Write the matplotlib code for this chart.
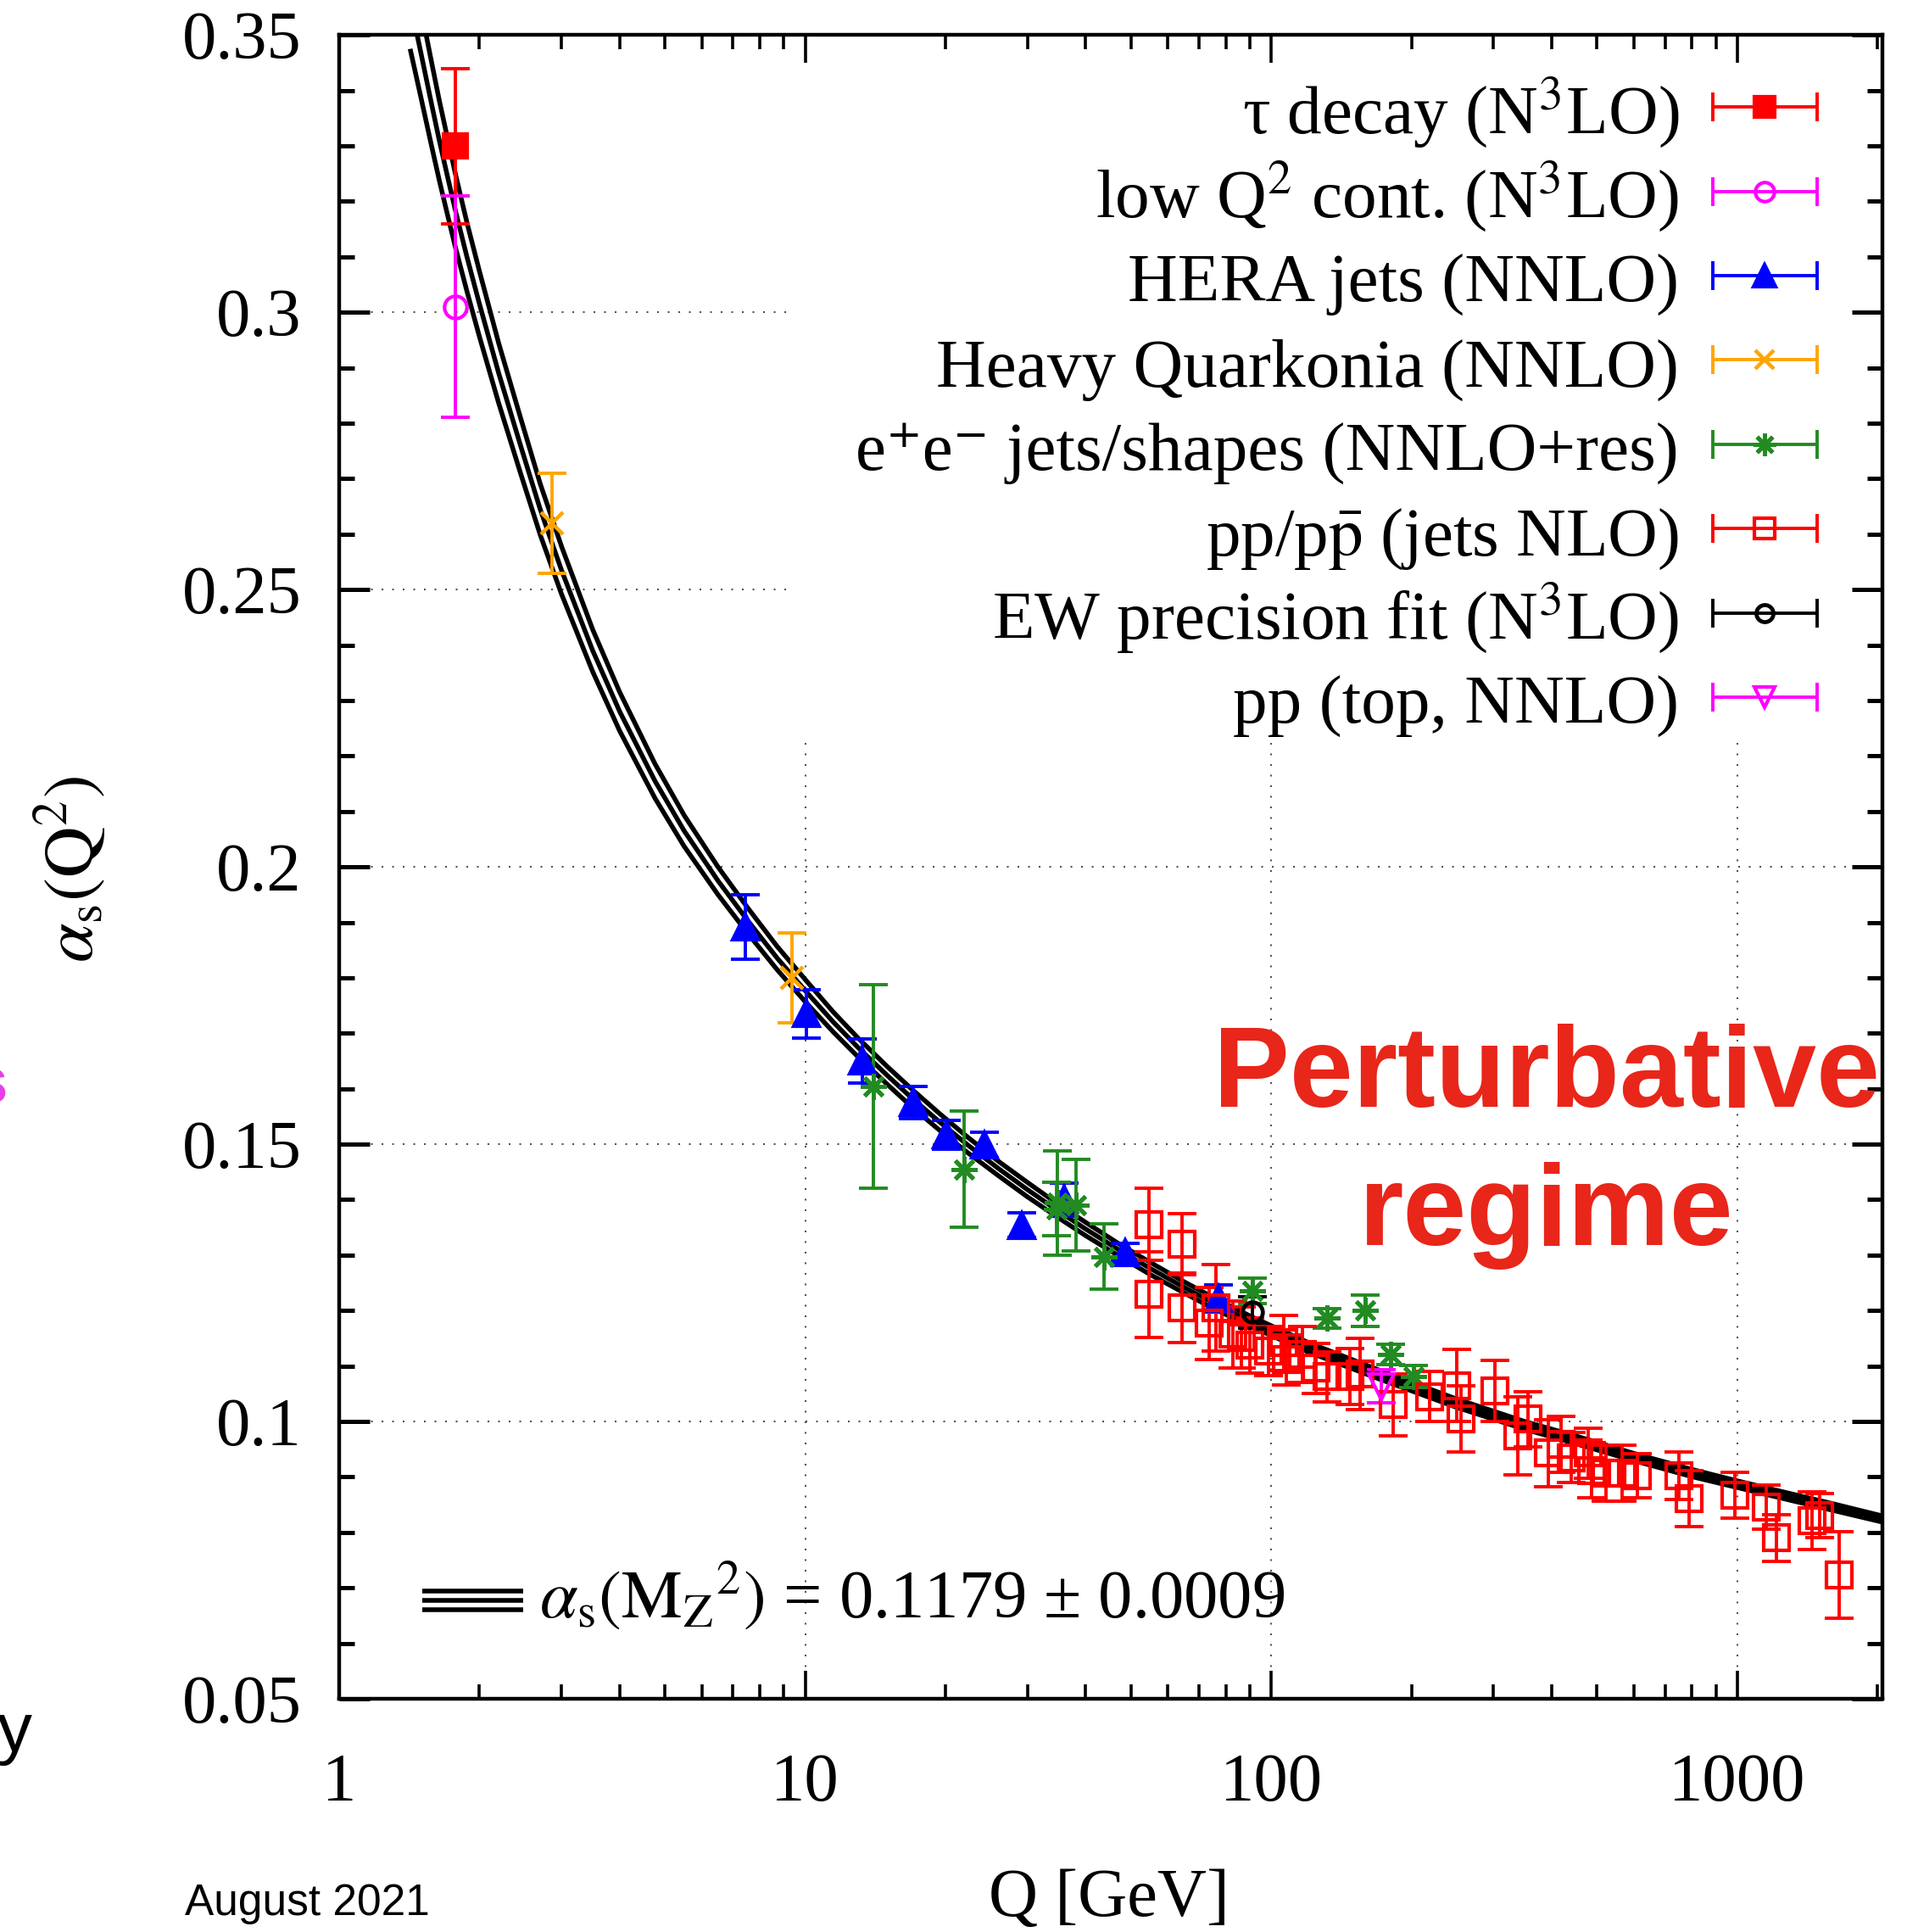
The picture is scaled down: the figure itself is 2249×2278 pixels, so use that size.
import matplotlib
matplotlib.use("Agg")
from matplotlib import pyplot as plt
from matplotlib import patches
from matplotlib import ticker
import numpy as np

plt.rcParams['font.family'] = ['Liberation Serif', 'DejaVu Serif']
plt.rcParams['mathtext.fontset'] = 'stix'

# World average running coupling: central line and half width of the band
q_fit = [1.42, 1.5, 1.57, 1.64, 1.71, 1.78, 1.88, 2.0, 2.2, 2.45, 2.7, 3.0,
         3.5, 4.0, 4.76, 5.5, 6.5, 7.5, 8.7, 10, 11.5, 13, 15, 17, 19.5,
         22.3, 26, 30, 35, 40, 47, 55, 65, 75, 91.2, 120, 170, 250, 350,
         450, 600, 800, 1000, 1300, 1600, 2100]
alpha_fit = [0.356, 0.3465, 0.3385, 0.331, 0.3243, 0.318, 0.310, 0.3015,
             0.289, 0.276, 0.2645, 0.2535, 0.239, 0.228, 0.2155, 0.2065,
             0.1975, 0.1905, 0.1836, 0.1777, 0.1720, 0.1674, 0.1624, 0.1582,
             0.1539, 0.1499, 0.1456, 0.1418, 0.1379, 0.1347, 0.1310, 0.1276,
             0.1242, 0.1214, 0.1179, 0.1134, 0.1085, 0.1033, 0.0993, 0.0967,
             0.0936, 0.0907, 0.0887, 0.0864, 0.0846, 0.0822]
alpha_fit_err = [0.0085, 0.0080, 0.0076, 0.0072, 0.0069, 0.0066, 0.0062,
                 0.0059, 0.0054, 0.0050, 0.0046, 0.0043, 0.0038, 0.0035,
                 0.0031, 0.0028, 0.0025, 0.0023, 0.0021, 0.0020, 0.0018,
                 0.0017, 0.0016, 0.0016, 0.0015, 0.0014, 0.0013, 0.0013,
                 0.0012, 0.0012, 0.0011, 0.0011, 0.0010, 0.0010, 0.0009,
                 0.00085, 0.0008, 0.00075, 0.0007, 0.0007, 0.00065, 0.00065,
                 0.0006, 0.0006, 0.0006, 0.00055]

# tau decay
q_tau = [1.777]
alpha_tau = [0.330]
err_tau = [0.014]

# low Q^2 continuum
q_lowq = [1.777]
alpha_lowq = [0.301]
err_lowq = [0.020]

# HERA jets
q_hera = [7.43, 10.08, 13.26, 17.09, 20.05, 24.3, 29.2, 36.0, 48.6, 77.0]
alpha_hera = [0.1892, 0.1735, 0.1650, 0.1575, 0.1517, 0.1499, 0.1354,
              0.1400, 0.1305, 0.1222]
err_hera = [0.0058, 0.0043, 0.0040, 0.0029, 0.0026, 0.0023, 0.0022,
            0.0030, 0.0016, 0.0024]

# heavy quarkonia
q_hq = [2.86, 9.37]
alpha_hq = [0.262, 0.180]
err_hq = [0.009, 0.0081]

# e+e- jets and event shapes
q_ee = [14.0, 21.9, 34.8, 34.6, 38.1, 43.8, 91.2, 132.0, 159.0, 180.5,
        201.8]
alpha_ee = [0.1604, 0.1455, 0.1394, 0.1383, 0.1390, 0.1297, 0.1236,
            0.1186, 0.1200, 0.1121, 0.1081]
err_ee = [0.0183, 0.0105, 0.0094, 0.0048, 0.0083, 0.0059, 0.0023,
          0.0017, 0.0028, 0.0019, 0.0020]

# pp / ppbar jets
q_pp = [54.7, 54.7, 64.3, 64.3, 73.5, 76.1, 82.8, 86.3, 90.0, 98.9,
        106.3, 107.8, 116.7, 125, 132, 147.7, 155, 183, 219, 250,
        255, 302, 338, 356, 393, 419, 440, 478, 488, 523,
        566, 610, 749, 789, 989, 1156, 1212, 1450, 1504, 1658]
alpha_pp = [0.1355, 0.1229, 0.1319, 0.1205, 0.1177, 0.1205, 0.1157, 0.1152,
            0.1137, 0.1127, 0.1142, 0.1111, 0.1121, 0.1096, 0.1081, 0.1081,
            0.1086, 0.1030, 0.1045, 0.1065, 0.1005, 0.1055, 0.0974, 0.1004,
            0.0943, 0.0959, 0.0935, 0.0943, 0.0912, 0.0907, 0.0907, 0.0902,
            0.0902, 0.0861, 0.0867, 0.0846, 0.0790, 0.0821, 0.0830, 0.0724]
err_pp = [0.0065, 0.0077, 0.0055, 0.0063, 0.0065, 0.0078, 0.0060, 0.0055,
          0.0050, 0.0045, 0.0050, 0.0045, 0.0050, 0.0045, 0.0045, 0.0050,
          0.0064, 0.0056, 0.0045, 0.0065, 0.0060, 0.0055, 0.0070, 0.0050,
          0.0060, 0.0050, 0.0045, 0.0045, 0.0050, 0.0050, 0.0050, 0.0040,
          0.0043, 0.0050, 0.0042, 0.0040, 0.0042, 0.0052, 0.0040, 0.0078]

# electroweak precision fit
q_ew = [91.19]
alpha_ew = [0.1197]
err_ew = [0.0028]

# pp -> top pairs
q_top = [172.5]
alpha_top = [0.1063]
err_top = [0.0030]

legend_labels = [r'τ decay (N$^3$LO)',
                 r'low Q$^2$ cont. (N$^3$LO)',
                 'HERA jets (NNLO)',
                 'Heavy Quarkonia (NNLO)',
                 'e\u207ae\u207b jets/shapes (NNLO+res)',
                 r'pp/p$\bar{\mathrm{p}}$ (jets NLO)',
                 r'EW precision fit (N$^3$LO)',
                 'pp (top, NNLO)']

ASTER = (8, 2, 0)
# (color, marker, filled, markersize, edge width)
styles = [('#ff0000', 's', True, 20, 3.0),
          ('#ff00ff', 'o', False, 19, 3.0),
          ('#0000ff', '^', True, 22, 3.0),
          ('#ffa500', 'x', False, 19, 3.2),
          ('#228b22', ASTER, False, 22, 3.6),
          ('#ff0000', 's', False, 21, 3.0),
          ('#000000', 'o', False, 17, 3.4),
          ('#ff00ff', 'v', False, 21, 3.0)]

series = [(q_tau, alpha_tau, err_tau),
          (q_lowq, alpha_lowq, err_lowq),
          (q_hera, alpha_hera, err_hera),
          (q_hq, alpha_hq, err_hq),
          (q_ee, alpha_ee, err_ee),
          (q_pp, alpha_pp, err_pp),
          (q_ew, alpha_ew, err_ew),
          (q_top, alpha_top, err_top)]

fig = plt.figure(figsize=(22.49, 22.78), dpi=100)
ax = fig.add_axes([400 / 2249, 275 / 2278, 1820 / 2249, 1961.7 / 2278])

ax.set_xscale('log')
ax.set_xlim(1, 2050)
ax.set_ylim(0.05, 0.35)

# dotted grid, hidden behind the key by a white box
for v in [0.1, 0.15, 0.2, 0.25, 0.3]:
    ax.axhline(v, color='#555555', lw=1.5, ls=(0, (1, 5)), zorder=0.8)
for v in [10, 100, 1000]:
    ax.axvline(v, color='#555555', lw=1.5, ls=(0, (1, 5)), zorder=0.8)
ax.add_patch(patches.Rectangle((0.2916, 0.5765), 0.7084, 0.4235,
                               transform=ax.transAxes, facecolor='white',
                               edgecolor='none', zorder=1))

# the band: lower, central and upper line
qf = np.array(q_fit)
af = np.array(alpha_fit)
ef = np.array(alpha_fit_err)
for line in (af - ef, af, af + ef):
    ax.plot(qf, line, color='black', lw=4.0, zorder=2,
            solid_capstyle='butt', solid_joinstyle='round')

for (q, a, e), (c, m, filled, ms, mew) in zip(series, styles):
    ax.errorbar(q, a, yerr=e, fmt='none', ecolor=c, elinewidth=2.8,
                capsize=12.5, capthick=2.8, zorder=3)
    ax.plot(q, a, ls='none', marker=m, ms=ms,
            mfc=c if filled else 'none', mec=c, mew=mew, zorder=4)

# key
row_y0 = 0.9568
row_dy = 0.0507
for i, (lab, (c, m, filled, ms, mew)) in enumerate(zip(legend_labels,
                                                        styles)):
    y = row_y0 - i * row_dy
    ax.errorbar([0.9239], [y], xerr=[0.0338], fmt='none', ecolor=c,
                elinewidth=2.8, capsize=12.5, capthick=2.8,
                transform=ax.transAxes, zorder=5, clip_on=False)
    ax.plot([0.9239], [y], ls='none', marker=m, ms=ms * 0.85,
            mfc=c if filled else 'none', mec=c, mew=mew,
            transform=ax.transAxes, zorder=6, clip_on=False)
    ax.text(0.8681, y - 0.0158, lab, transform=ax.transAxes, ha='right',
            va='baseline', fontsize=58.5, zorder=6)

# world average key
for y in (0.0647, 0.0591, 0.0535):
    ax.plot([0.0538, 0.1192], [y, y], color='black', lw=4.0,
            transform=ax.transAxes, solid_capstyle='butt')
ax.text(0.1297, 0.0489,
        r'$\alpha_\mathrm{s}(\mathrm{M}_\mathrm{Z}{}^2)$ = 0.1179 ± 0.0009',
        transform=ax.transAxes, ha='left', va='baseline', fontsize=58)

# axes styling
ax.xaxis.set_major_locator(ticker.FixedLocator([1, 10, 100, 1000]))
ax.xaxis.set_major_formatter(ticker.FixedFormatter(['1', '10', '100', '1000']))
ax.xaxis.set_minor_locator(ticker.LogLocator(base=10, subs=range(2, 10),
                                             numticks=20))
ax.xaxis.set_minor_formatter(ticker.NullFormatter())
ax.yaxis.set_major_locator(ticker.MultipleLocator(0.05))
ax.yaxis.set_minor_locator(ticker.MultipleLocator(0.01))
ax.yaxis.set_major_formatter(ticker.FuncFormatter(lambda v, _: f'{v:g}'))

ax.tick_params(which='both', direction='in', top=True, right=True,
               labelsize=58)
ax.tick_params(axis='x', which='major', length=24, width=2.6, pad=46)
ax.tick_params(axis='x', which='minor', length=12, width=2.6)
ax.tick_params(axis='y', which='major', length=26, width=3.6, pad=32)
ax.tick_params(axis='y', which='minor', length=13, width=3.6)
for sp in ax.spines.values():
    sp.set_linewidth(3.2)

fig.text(83.5 / 2249, 1 - 1025 / 2278, r'$\alpha_\mathrm{s}(\mathrm{Q}^2)$',
         rotation=90, ha='center', va='center', fontsize=60)
fig.text(1308 / 2249, 1 - 2239 / 2278, 'Q [GeV]', ha='center', va='center',
         fontsize=58)

# slide overlay
red = '#e8261a'
fig.text(1824 / 2249, 1 - 1305 / 2278, 'Perturbative', ha='center',
         va='baseline', fontsize=97, color=red, fontweight='bold',
         family='Liberation Sans')
fig.text(1824 / 2249, 1 - 1468 / 2278, 'regime', ha='center',
         va='baseline', fontsize=97, color=red, fontweight='bold',
         family='Liberation Sans')
fig.text(218 / 2249, 1 - 2258 / 2278, 'August 2021', ha='left',
         va='baseline', fontsize=37, family='Liberation Sans')
fig.text(8.5 / 2249, 1 - 1300 / 2278, 's', ha='right', va='baseline',
         fontsize=55, color='#e83de8', fontweight='bold',
         family='Liberation Sans')
fig.text(-3 / 2249, 1 - 2065 / 2278, 'y', ha='left', va='baseline',
         fontsize=59, family='Liberation Sans')

fig.savefig('out.png', dpi=100)
